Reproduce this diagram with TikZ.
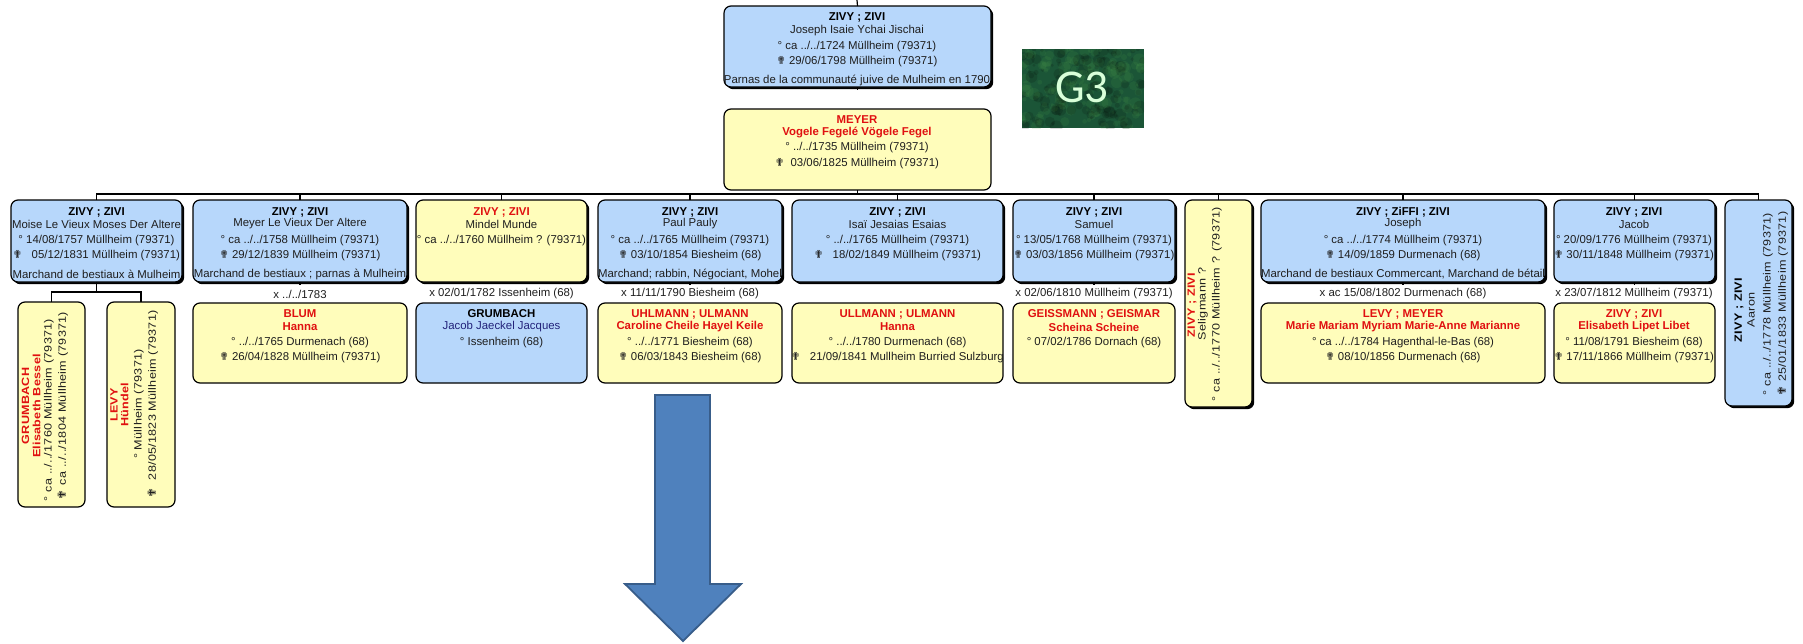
\documentclass[tikz,border=0pt]{standalone}
\usepackage{fontspec}
\usepackage{graphicx}
\usetikzlibrary{shadows,arrows.meta}
\setmainfont{Liberation Sans}
\newfontfamily\crossfont{DejaVu Sans}
\newfontfamily\gfont{Carlito}
\definecolor{pblue}{HTML}{B7D7FB}
\definecolor{pyellow}{HTML}{FFFDBB}
\definecolor{pred}{HTML}{E01010}
\definecolor{ptext}{HTML}{1E1E1E}
\definecolor{pnavy}{HTML}{22227A}
\definecolor{arrowfill}{HTML}{4F81BD}
\definecolor{arrowline}{HTML}{385D8A}
\definecolor{gbase}{HTML}{1B5537}
\newcommand{\cro}{{\crossfont\fontsize{11}{11}\selectfont ✟}}
\newcommand{\wid}[1]{\scalebox{1.2}[1]{\fontsize{10.5}{12}\selectfont\addfontfeature{LetterSpace=2}#1}}
\tikzset{
  x=1pt,y=-1pt,
  pbase/.style={rectangle,rounded corners=7pt,draw=black,line width=1.2pt,inner sep=0pt,outer sep=0pt},
  bluebox/.style={pbase,fill=pblue,drop shadow={shadow xshift=2.2pt,shadow yshift=-2.2pt,fill=black,opacity=1}},
  yelbox/.style={pbase,fill=pyellow,drop shadow={shadow xshift=2.2pt,shadow yshift=-2.2pt,fill=black,opacity=1}},
  blueflat/.style={pbase,fill=pblue},
  yelflat/.style={pbase,fill=pyellow},
  txt/.style={inner sep=0pt,outer sep=0pt,text=ptext,font=\fontsize{11.4}{12}\selectfont},
  nm/.style={txt,text=black,font=\fontsize{11.4}{12}\selectfont\bfseries},
  rn/.style={txt,text=pred,font=\fontsize{11.4}{12}\selectfont\bfseries},
  nv/.style={txt,text=pnavy},
  up/.style={rotate=90},
  wire/.style={draw=black,line width=1.2pt},
}
\newcommand{\pbox}[6]{%
  \pgfmathsetmacro{\bw}{#4-#2}\pgfmathsetmacro{\bh}{#5-#3}%
  \pgfmathsetmacro{\bx}{(#2+#4)/2}\pgfmathsetmacro{\by}{(#3+#5)/2}%
  \node[#6,minimum width=\bw pt,minimum height=\bh pt] (#1) at (\bx,\by) {};}
\newcommand{\T}[5]{\node[#4] (#1) at (#2,#3) {#5};}
\begin{document}
\begin{tikzpicture}
\useasboundingbox (0,0) rectangle (1803,643);
% boxes
\pbox{top}{724}{6}{991}{87}{bluebox}
\pbox{wife}{724}{109}{991}{190}{yelflat}
\pbox{b1}{11}{200}{182}{282}{bluebox}
\pbox{b2}{193}{200}{407}{282}{bluebox}
\pbox{b3}{416}{200}{587}{282}{yelbox}
\pbox{b4}{598}{200}{782}{282}{bluebox}
\pbox{b5}{792}{200}{1003}{282}{bluebox}
\pbox{b6}{1013}{200}{1175}{282}{bluebox}
\pbox{b7}{1185}{200}{1252}{407}{yelbox}
\pbox{b8}{1261}{200}{1545}{282}{bluebox}
\pbox{b9}{1554}{200}{1715}{282}{bluebox}
\pbox{b10}{1725}{200}{1792}{406}{bluebox}
\pbox{s2}{193}{303}{407}{383}{yelflat}
\pbox{s3}{416}{303}{587}{383}{blueflat}
\pbox{s4}{598}{303}{782}{383}{yelflat}
\pbox{s5}{792}{303}{1003}{383}{yelflat}
\pbox{s6}{1013}{303}{1175}{383}{yelflat}
\pbox{s8}{1261}{303}{1545}{383}{yelflat}
\pbox{s9}{1554}{303}{1715}{383}{yelflat}
\pbox{c1}{18}{302}{85}{507}{yelflat}
\pbox{c2}{107}{302}{175}{507}{yelflat}
% connectors
\coordinate (rootend) at (857,0);
\draw[wire] (rootend) -- (top.north);
\draw[wire] (top.south) -- ++(0,3);
\draw[wire] (wife.south) -- ++(0,4);
\draw[wire] (b1.north) -- ++(0,-6) -| (b10.north);
\foreach \n in {b2,b3,b4,b5,b6,b7,b8,b9}{\draw[wire] (\n.north) -- ++(0,-6);}
\coordinate (fork) at (96.5,292);
\draw[wire] (b1.south) -- (fork);
\draw[wire] (c1.north) |- (fork) -| (c2.north);
\foreach \n in {b2,b4,b6,b8,b9}{\draw[wire] (\n.south) -- ++(0,3);}
% top box
\T{t1}{857}{17}{nm}{ZIVY ; ZIVI}
\T{t2}{857}{31}{txt}{Joseph Isaie Ychai Jischai}
\T{t3}{857}{47}{txt}{° ca ../../1724 Müllheim (79371)}
\T{t4}{857}{62}{txt}{\cro\ 29/06/1798 Müllheim (79371)}
\T{t5}{857}{80}{txt}{Parnas de la communauté juive de Mulheim en 1790}
% wife
\T{w1}{857}{120}{rn}{MEYER}
\T{w2}{857}{133}{rn}{Vogele Fegelé Vögele Fegel}
\T{w3}{857}{148}{txt}{° ../../1735 Müllheim (79371)}
\T{w4}{857}{164}{txt}{\cro\ \ 03/06/1825 Müllheim (79371)}
% b1
\T{a1}{96.5}{212}{nm}{ZIVY ; ZIVI}
\T{a2}{96.5}{224}{txt}{Moise Le Vieux Moses Der Altere}
\T{a3}{96.5}{241}{txt}{° 14/08/1757 Müllheim (79371)}
\T{a4}{96.5}{256}{txt}{\cro\ \ \ 05/12/1831 Müllheim (79371)}
\T{a5}{96.5}{274}{txt}{Marchand de bestiaux à Mulheim}
% b2
\T{d1}{300}{212}{nm}{ZIVY ; ZIVI}
\T{d2}{300}{224}{txt}{Meyer Le Vieux Der Altere}
\T{d3}{300}{241}{txt}{° ca ../../1758 Müllheim (79371)}
\T{d4}{300}{256}{txt}{\cro\ 29/12/1839 Müllheim (79371)}
\T{d5}{300}{274}{txt}{Marchand de bestiaux ; parnas à Mulheim}
\T{d6}{300}{294}{txt}{x ../../1783}
\T{d7}{300}{314}{rn}{BLUM}
\T{d8}{300}{327}{rn}{Hanna}
\T{d9}{300}{343}{txt}{° ../../1765 Durmenach (68)}
\T{d10}{300}{358}{txt}{\cro\ 26/04/1828 Müllheim (79371)}
% b3
\T{e1}{501.5}{212}{rn}{ZIVY ; ZIVI}
\T{e2}{501.5}{224}{txt}{Mindel Munde}
\T{e3}{501.5}{241}{txt}{° ca ../../1760 Müllheim ? (79371)}
\T{e6}{501.5}{294}{txt}{x 02/01/1782 Issenheim (68)}
\T{e7}{501.5}{314}{nm}{GRUMBACH}
\T{e8}{501.5}{327}{nv}{Jacob Jaeckel Jacques}
\T{e9}{501.5}{343}{txt}{° Issenheim (68)}
% b4
\T{f1}{690}{212}{nm}{ZIVY ; ZIVI}
\T{f2}{690}{224}{txt}{Paul Pauly}
\T{f3}{690}{241}{txt}{° ca ../../1765 Müllheim (79371)}
\T{f4}{690}{256}{txt}{\cro\ 03/10/1854 Biesheim (68)}
\T{f5}{690}{274}{txt}{Marchand; rabbin, Négociant, Mohel}
\T{f6}{690}{294}{txt}{x 11/11/1790 Biesheim (68)}
\T{f7}{690}{314}{rn}{UHLMANN ; ULMANN}
\T{f8}{690}{327}{rn}{Caroline Cheile Hayel Keile}
\T{f9}{690}{343}{txt}{° ../../1771 Biesheim (68)}
\T{f10}{690}{358}{txt}{\cro\ 06/03/1843 Biesheim (68)}
% b5
\T{g1}{897.5}{212}{nm}{ZIVY ; ZIVI}
\T{g2}{897.5}{224}{txt}{Isaï Jesaias Esaias}
\T{g3}{897.5}{241}{txt}{° ../../1765 Müllheim (79371)}
\T{g4}{897.5}{256}{txt}{\cro\ \ \ 18/02/1849 Müllheim (79371)}
\T{g7}{897.5}{314}{rn}{ULLMANN ; ULMANN}
\T{g8}{897.5}{327}{rn}{Hanna}
\T{g9}{897.5}{343}{txt}{° ../../1780 Durmenach (68)}
\T{g10}{897.5}{358}{txt}{\cro\ \ \ 21/09/1841 Mullheim Burried Sulzburg}
% b6
\T{h1}{1094}{212}{nm}{ZIVY ; ZIVI}
\T{h2}{1094}{224}{txt}{Samuel}
\T{h3}{1094}{241}{txt}{° 13/05/1768 Müllheim (79371)}
\T{h4}{1094}{256}{txt}{\cro\ 03/03/1856 Müllheim (79371)}
\T{h6}{1094}{294}{txt}{x 02/06/1810 Müllheim (79371)}
\T{h7}{1094}{314}{rn}{GEISSMANN ; GEISMAR}
\T{h8}{1094}{327}{rn}{Scheina Scheine}
\T{h9}{1094}{343}{txt}{° 07/02/1786 Dornach (68)}
% b8
\T{k1}{1403}{212}{nm}{ZIVY ; ZiFFI ; ZIVI}
\T{k2}{1403}{224}{txt}{Joseph}
\T{k3}{1403}{241}{txt}{° ca ../../1774 Müllheim (79371)}
\T{k4}{1403}{256}{txt}{\cro\ 14/09/1859 Durmenach (68)}
\T{k5}{1403}{274}{txt}{Marchand de bestiaux Commercant, Marchand de bétail}
\T{k6}{1403}{294}{txt}{x ac 15/08/1802 Durmenach (68)}
\T{k7}{1403}{314}{rn}{LEVY ; MEYER}
\T{k8}{1403}{327}{rn}{Marie Mariam Myriam Marie-Anne Marianne}
\T{k9}{1403}{343}{txt}{° ca ../../1784 Hagenthal-le-Bas (68)}
\T{k10}{1403}{358}{txt}{\cro\ 08/10/1856 Durmenach (68)}
% b9
\T{m1}{1634}{212}{nm}{ZIVY ; ZIVI}
\T{m2}{1634}{224}{txt}{Jacob}
\T{m3}{1634}{241}{txt}{° 20/09/1776 Müllheim (79371)}
\T{m4}{1634}{256}{txt}{\cro\ 30/11/1848 Müllheim (79371)}
\T{m6}{1634}{294}{txt}{x 23/07/1812 Müllheim (79371)}
\T{m7}{1634}{314}{rn}{ZIVY ; ZIVI}
\T{m8}{1634}{327}{rn}{Elisabeth Lipet Libet}
\T{m9}{1634}{343}{txt}{° 11/08/1791 Biesheim (68)}
\T{m10}{1634}{358}{txt}{\cro\ 17/11/1866 Müllheim (79371)}
% rotated
\T{p1}{25.5}{406}{rn,up}{\wid{GRUMBACH}}
\T{p2}{36.5}{406}{rn,up}{\wid{Elisabeth Bessel}}
\T{p3}{49}{410}{txt,up}{\wid{° ca ../../1760 Müllheim (79371)}}
\T{p4}{63}{406}{txt,up}{\wid{\cro\ ca ../../1804 Müllheim (79371)}}
\T{q1}{114}{405}{rn,up}{\wid{LEVY}}
\T{q2}{124.5}{405}{rn,up}{\wid{Hündel}}
\T{q3}{139}{404}{txt,up}{\wid{° Müllheim (79371)}}
\T{q4}{153}{404.5}{txt,up}{\wid{\cro\ \ 28/05/1823 Müllheim (79371)}}
\T{r1}{1192}{305}{rn,up}{\wid{ZIVY ; ZIVI}}
\T{r2}{1203}{304}{txt,up}{\wid{Seligmann ?}}
\T{r3}{1217}{304}{txt,up}{\wid{° ca ../../1770 Müllheim ? (79371)}}
\T{n1}{1739}{310}{nm,up}{\wid{ZIVY ; ZIVI}}
\T{n2}{1751}{310}{txt,up}{\wid{Aaron}}
\T{n3}{1768}{304}{txt,up}{\wid{° ca ../../1778 Müllheim (79371)}}
\T{n4}{1783}{304}{txt,up}{\wid{\cro\ 25/01/1833 Müllheim (79371)}}
% G3 marbled tile
\begin{scope}
\clip (1022,49) rectangle (1144,128);
\fill[gbase] (1022,49) rectangle (1144,128);
\pgfmathsetseed{11}
\foreach \i in {1,...,260}{
  \pgfmathsetmacro{\px}{1022+122*rnd}
  \pgfmathsetmacro{\py}{49+79*rnd}
  \pgfmathsetmacro{\pr}{1.5+5*rnd}
  \pgfmathparse{rnd<0.5?1:0}
  \ifnum\pgfmathresult=1
    \fill[green!45!black!70!white,opacity=.14] (\px,\py) circle[radius=\pr pt];
  \else
    \fill[black,opacity=.14] (\px,\py) circle[radius=\pr pt];
  \fi
}
\end{scope}
\node[inner sep=0pt,text=white!85!green,font=\gfont\fontsize{47}{47}\selectfont] (g3) at (1082,87) {G3};
% big arrow
\draw[draw=arrowline,line width=1.8pt,fill=arrowfill,line join=miter]
  (655,395) -- (710,395) -- (710,584) -- (741,584) -- (683,641) -- (625,584) -- (655,584) -- cycle;
\end{tikzpicture}
\end{document}
